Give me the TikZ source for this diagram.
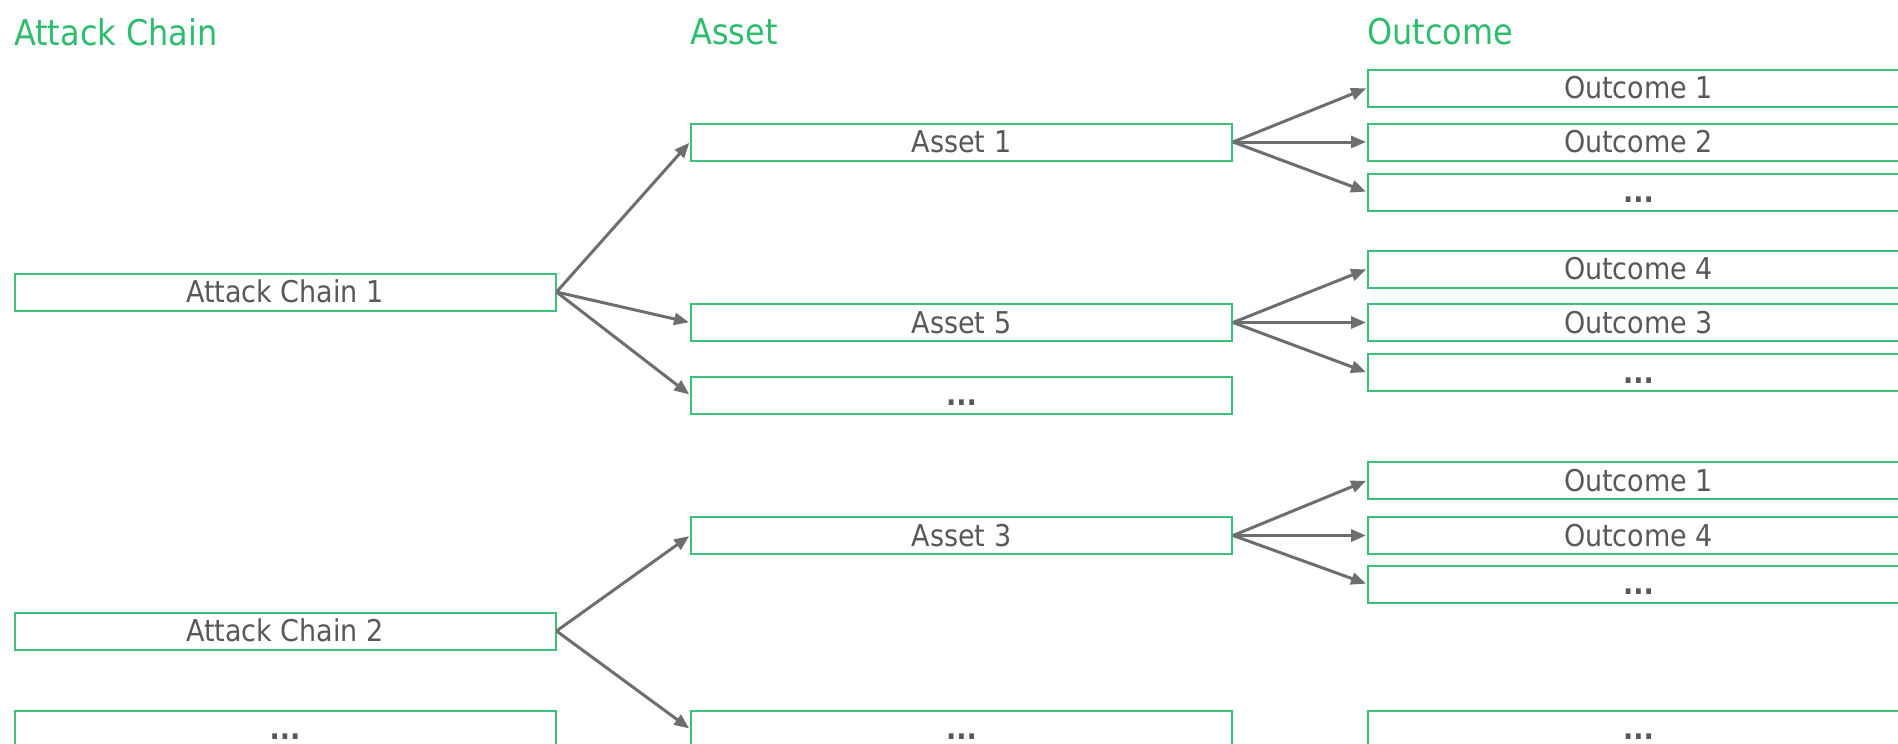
\documentclass[tikz,border=0pt]{standalone}
\usepackage{fontspec}
\setmainfont{DejaVu Sans Condensed}
\usetikzlibrary{arrows.meta}
\definecolor{hdrgreen}{HTML}{2EBD6E}
\definecolor{boxgreen}{HTML}{3CC07A}
\definecolor{arrowgray}{HTML}{6E6E70}
\definecolor{txtgray}{HTML}{58585A}
\newcommand{\moredots}{\textbf{...}}
\tikzset{
  x=1pt, y=-1pt,
  header/.style={anchor=west, inner sep=0pt, text=hdrgreen, font=\fontsize{35.5}{38}\selectfont},
  itembox/.style={draw=boxgreen, line width=2pt, minimum width=541pt, minimum height=37pt,
    inner sep=0pt, text height=23pt, text depth=2pt, text=txtgray, font=\fontsize{30}{32}\selectfont},
  link/.style={draw=arrowgray, line width=3pt, -{Triangle[length=15pt,width=12pt]}, shorten >=1pt},
}
\begin{document}
\begin{tikzpicture}
\useasboundingbox (0,0) rectangle (1898,744);
% column headings
\node[header] (hAC) at (14,32) {Attack Chain};
\node[header] (hAS) at (690,32) {Asset};
\node[header] (hOC) at (1367,32) {Outcome};
% attack chains
\node[itembox] (ac1) at (285,292) {Attack Chain 1};
\node[itembox] (ac2) at (285,631) {Attack Chain 2};
\node[itembox] (ac3) at (285,729) {\moredots};
% assets
\node[itembox] (as1) at (961.5,142) {Asset 1};
\node[itembox] (as5) at (961.5,322.5) {Asset 5};
\node[itembox] (asx) at (961.5,395) {\moredots};
\node[itembox] (as3) at (961.5,535.5) {Asset 3};
\node[itembox] (asy) at (961.5,729) {\moredots};
% outcomes
\node[itembox] (o11) at (1638.5,88) {Outcome 1};
\node[itembox] (o12) at (1638.5,142) {Outcome 2};
\node[itembox] (o13) at (1638.5,192) {\moredots};
\node[itembox] (o21) at (1638.5,269) {Outcome 4};
\node[itembox] (o22) at (1638.5,322.5) {Outcome 3};
\node[itembox] (o23) at (1638.5,372.5) {\moredots};
\node[itembox] (o31) at (1638.5,480.5) {Outcome 1};
\node[itembox] (o32) at (1638.5,535.5) {Outcome 4};
\node[itembox] (o33) at (1638.5,584) {\moredots};
\node[itembox] (o41) at (1638.5,729) {\moredots};
% attack chain to asset
\draw[link] (ac1.east) -- (as1.west);
\draw[link] (ac1.east) -- (as5.west);
\draw[link] (ac1.east) -- (asx.west);
\draw[link] (ac2.east) -- (as3.west);
\draw[link] (ac2.east) -- (asy.west);
% asset to outcome
\foreach \src/\a/\b/\c in {as1/o11/o12/o13, as5/o21/o22/o23, as3/o31/o32/o33}{
  \draw[link] (\src.east) -- (\a.west);
  \draw[link] (\src.east) -- (\b.west);
  \draw[link] (\src.east) -- (\c.west);
}
\end{tikzpicture}
\end{document}
